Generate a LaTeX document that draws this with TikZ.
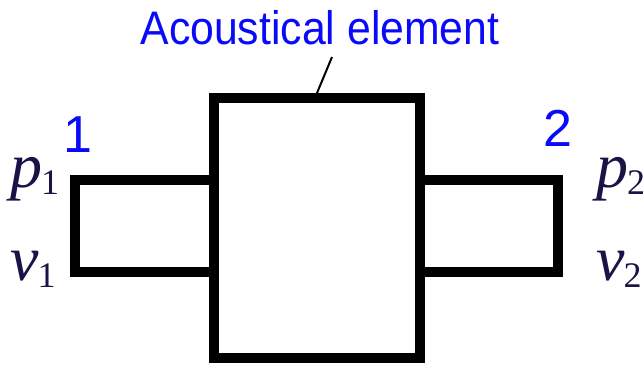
\documentclass[tikz,border=0pt]{standalone}
\usepackage{fontspec}
\setmainfont{Liberation Serif}
\newfontfamily\labelsans{Liberation Sans}
\newfontfamily\capsans[FakeStretch=0.91]{Liberation Sans}
\definecolor{tagblue}{RGB}{10,10,250}
\definecolor{varink}{RGB}{25,20,70}
\newcommand{\portsub}[1]{\kern-1pt\raisebox{-7pt}{\upshape\fontsize{36}{36}\selectfont #1}}
\begin{document}
\begin{tikzpicture}[x=1pt,y=-1pt,
  wall/.style={draw=black,line width=10pt,line join=miter},
  tagtext/.style={font=\capsans\fontsize{47}{47}\selectfont,text=tagblue,inner sep=0pt},
  portnum/.style={font=\labelsans\fontsize{52}{52}\selectfont,text=tagblue,inner sep=0pt,anchor=base},
  quantity/.style={font=\fontsize{64}{64}\selectfont\itshape,text=varink,inner sep=0pt,anchor=base west}]
  \useasboundingbox (0,0) rectangle (644,364);
  % the element body
  \node[wall,fill=white,minimum width=206pt,minimum height=260pt,inner sep=0pt] (elem) at (317,228) {};
  % inlet and outlet ducts
  \draw[wall] (elem.west |- 0,180) -- (75,180) -- (75,272) -- (elem.west |- 0,272);
  \draw[wall] (elem.east |- 0,180) -- (558,180) -- (558,272) -- (elem.east |- 0,272);
  % caption with its leader line
  \node[tagtext,anchor=base] (cap) at (320,44) {Acoustical element};
  \coordinate (capfoot) at (332,57);
  \draw[line width=2pt] (elem.north) -- (capfoot);
  % port numbers
  \node[portnum] (n1) at (78,152) {1};
  \node[portnum] (n2) at (558,146) {2};
  % pressures and velocities at the ports
  \node[quantity] (p1) at (10,187) {p\portsub{1}};
  \node[quantity] (v1) at (10,280) {v\portsub{1}};
  \node[quantity] (p2) at (596,187) {p\portsub{2}};
  \node[quantity] (v2) at (596,280) {v\portsub{2}};
\end{tikzpicture}
\end{document}
